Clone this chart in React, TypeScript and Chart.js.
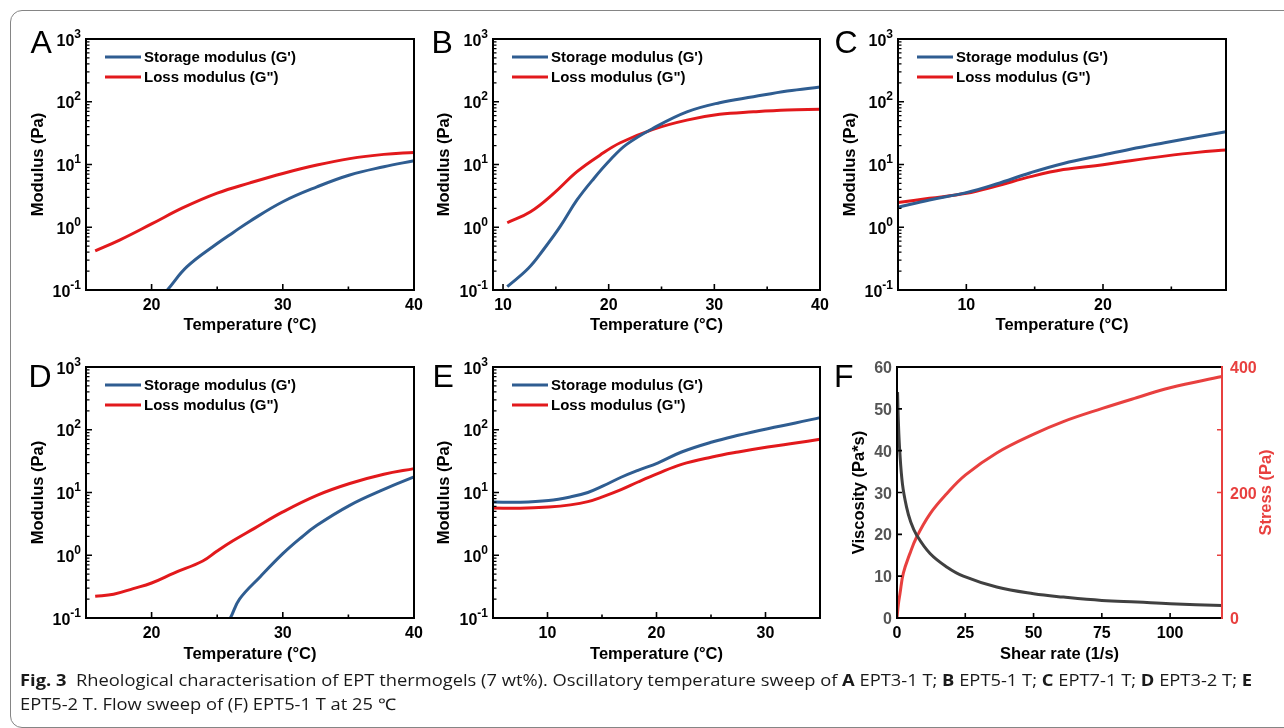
import React, { useEffect, useLayoutEffect, useRef } from 'react';
import { Chart, registerables } from 'chart.js';
Chart.register(...registerables);

const W = 1284;
const H = 728;
const BLUE = '#2f5d91';
const RED = '#e2191c';
const F_RED = '#e8403f';
const F_GRAY = '#404040';
const FONT = '"Liberation Sans", Arial, sans-serif';

const LEGEND_LABELS = ["Storage modulus (G')", 'Loss modulus (G")'];
const TEMP_TITLE = 'Temperature (°C)';
const MOD_TITLE = 'Modulus (Pa)';
const LOG_TICKS = [0.1, 1, 10, 100, 1000];
const LOG_EXP = ['-1', '0', '1', '2', '3'];

// Panel A (EPT3-1 T)
const A_T_G1 = [20.8, 21.2, 22.7, 25.0, 26.2, 27.5, 30.0, 32.6, 35.1, 37.7, 40];
const A_G1 = [0.082, 0.1, 0.235, 0.55, 0.82, 1.25, 2.55, 4.4, 6.8, 9.2, 11.5];
const A_T_G2 = [15.7, 17.6, 20.0, 22.4, 25.0, 27.5, 30.0, 32.6, 35.1, 37.7, 40];
const A_G2 = [0.42, 0.63, 1.13, 2.05, 3.5, 5.1, 7.2, 9.8, 12.4, 14.5, 15.6];

// Panel B (EPT5-1 T)
const B_T_G1 = [10.4, 12.4, 13.8, 15.4, 17.0, 18.6, 20.2, 21.7, 24.2, 27.4, 30.5, 33.7, 36.9, 40];
const B_G1 = [0.113, 0.222, 0.434, 1.02, 2.72, 6.0, 12.1, 20.9, 37.7, 69, 96.6, 120, 148, 172];
const B_T_G2 = [10.4, 12.6, 14.8, 17.0, 19.2, 21.1, 24.2, 27.4, 30.5, 33.7, 36.9, 40];
const B_G2 = [1.18, 1.77, 3.47, 7.7, 14.2, 22.2, 36.3, 51, 63, 69, 73.8, 75.7];

// Panel C (EPT7-1 T)
const C_T = [5, 7.3, 10, 12.2, 14.7, 17.1, 20, 22, 24.5, 26.9, 29];
const C_G1 = [2.08, 2.72, 3.56, 4.89, 7.4, 10.4, 14.2, 17.5, 22.2, 27.7, 33.3];
const C_G2 = [2.47, 2.89, 3.47, 4.54, 6.4, 8.3, 9.9, 11.5, 13.6, 15.6, 17.0];

// Panel D (EPT3-2 T)
const D_T_G1 = [25.7, 26.0, 26.7, 28.3, 30.0, 31.3, 32.6, 35.1, 37.7, 40];
const D_G1 = [0.085, 0.1, 0.2, 0.46, 1.06, 1.84, 3.0, 6.25, 11.2, 17.7];
const D_T_G2 = [15.7, 17.1, 18.6, 20.0, 21.7, 23.9, 25.0, 26.2, 27.8, 30.0, 32.6, 35.1, 37.7, 40];
const D_G2 = [0.222, 0.239, 0.294, 0.361, 0.52, 0.81, 1.17, 1.7, 2.66, 4.9, 9.0, 13.9, 19.5, 24];

// Panel E (EPT5-2 T)
const E_T = [5, 7.5, 10.1, 12.1, 13.7, 15.1, 16.75, 18.3, 20.1, 22.3, 25.1, 27.5, 30.2, 32.75, 35];
const E_G1 = [7.06, 7.0, 7.45, 8.5, 10.0, 12.7, 17.5, 22.6, 29.5, 44.2, 63.8, 81.6, 104, 128, 156];
const E_G2 = [5.66, 5.6, 5.87, 6.35, 7.15, 8.6, 11.1, 14.7, 20, 28.1, 36.8, 44.2, 53, 61.5, 70.5];

// Panel F (flow sweep EPT5-1 T, 25 °C)
const F_RATE_VISC = [0.2, 0.5, 1.0, 2.0, 3.5, 5.0, 7.2, 12.1, 18.2, 24.3, 36.5, 50, 61, 75, 88, 100, 119];
const F_VISC = [54, 47, 40, 32, 26.5, 23, 19.8, 15.4, 12.2, 10.0, 7.4, 5.8, 5.0, 4.2, 3.8, 3.4, 3.0];
const F_RATE_STRESS = [0, 0.5, 1.1, 2.3, 4.75, 7.2, 12.1, 18.2, 25.1, 36.5, 50.1, 60.9, 75.2, 87.7, 100, 119];
const F_STRESS = [0, 22, 39, 71, 103, 129, 166, 198, 228, 263, 293, 313, 334, 351, 367, 385];
const F_X_TICKS = [0, 25, 50, 75, 100];
const F_Y_TICKS = [0, 10, 20, 30, 40, 50, 60];
const F_Y2_TICKS = [0, 100, 200, 300, 400];
const F_Y2_LABELS = [0, 200, 400];

const CAPTION_1: [string, boolean][] = [
  ['Fig. 3', true],
  ['\u00a0\u00a0Rheological characterisation of EPT thermogels (7 wt%). Oscillatory temperature sweep of ', false],
  ['A', true], [' EPT3-1 T; ', false],
  ['B', true], [' EPT5-1 T; ', false],
  ['C', true], [' EPT7-1 T; ', false],
  ['D', true], [' EPT3-2 T; ', false],
  ['E', true],
];
const CAPTION_2 = 'EPT5-2 T. Flow sweep of (F) EPT5-1 T at 25 \u2103';

type LogPanel = {
  id: string;
  box: number[];
  xMin: number; xMax: number;
  xMajor: number[]; xMinor: number[];
  g1: number[][]; g2: number[][];
  letter: number[];
  yTitleX: number;
  xTitleDy: number;
};

const PANELS: LogPanel[] = [
  { id: 'A', box: [86, 39, 414, 290], xMin: 15, xMax: 40, xMajor: [20, 30, 40], xMinor: [25, 35],
    g1: [A_T_G1, A_G1], g2: [A_T_G2, A_G2], letter: [30.5, 52.5], yTitleX: 38.5, xTitleDy: 39.5 },
  { id: 'B', box: [493, 39, 820, 290], xMin: 9.05, xMax: 40, xMajor: [10, 20, 30, 40], xMinor: [15, 25, 35],
    g1: [B_T_G1, B_G1], g2: [B_T_G2, B_G2], letter: [431.5, 52.5], yTitleX: 444.5, xTitleDy: 39.5 },
  { id: 'C', box: [898, 39, 1226, 290], xMin: 5, xMax: 29, xMajor: [10, 20], xMinor: [15, 25],
    g1: [C_T, C_G1], g2: [C_T, C_G2], letter: [834.5, 52.5], yTitleX: 850, xTitleDy: 39.5 },
  { id: 'D', box: [86, 367, 414, 618], xMin: 15, xMax: 40, xMajor: [20, 30, 40], xMinor: [25, 35],
    g1: [D_T_G1, D_G1], g2: [D_T_G2, D_G2], letter: [28.5, 386.5], yTitleX: 38.5, xTitleDy: 41 },
  { id: 'E', box: [493, 367, 820, 618], xMin: 5, xMax: 35, xMajor: [10, 20, 30], xMinor: [15, 25],
    g1: [E_T, E_G1], g2: [E_T, E_G2], letter: [432.5, 386.5], yTitleX: 444.5, xTitleDy: 41 },
];
const F_BOX = [897, 367, 1222, 618];

function pts(xs: number[], ys: number[]) {
  return xs.map((x, i) => ({ x, y: ys[i] }));
}

function drawRotated(ctx: any, text: string, x: number, y: number, font: string, color: string) {
  ctx.save();
  ctx.translate(x, y);
  ctx.rotate(-Math.PI / 2);
  ctx.font = font;
  ctx.fillStyle = color;
  ctx.textAlign = 'center';
  ctx.textBaseline = 'middle';
  ctx.fillText(text, 0, 0);
  ctx.restore();
}

function logDecor(p: LogPanel) {
  return {
    id: 'decor' + p.id,
    afterDraw(chart: any) {
      const ctx = chart.ctx;
      const { left, top, right, bottom } = chart.chartArea;
      const xs = chart.scales.x;
      const ys = chart.scales.y;
      ctx.save();
      ctx.strokeStyle = '#000';
      ctx.fillStyle = '#000';
      ctx.lineWidth = 1.6;
      ctx.beginPath();
      p.xMajor.forEach((v) => { const px = xs.getPixelForValue(v); ctx.moveTo(px, bottom); ctx.lineTo(px, bottom - 6); });
      p.xMinor.forEach((v) => { const px = xs.getPixelForValue(v); ctx.moveTo(px, bottom); ctx.lineTo(px, bottom - 3.5); });
      LOG_TICKS.forEach((v) => { const py = ys.getPixelForValue(v); ctx.moveTo(left, py); ctx.lineTo(left + 6, py); });
      ctx.stroke();
      ctx.lineWidth = 1.2;
      ctx.beginPath();
      for (let e = -1; e < 3; e++) {
        for (let k = 2; k < 10; k++) {
          const py = ys.getPixelForValue(k * Math.pow(10, e));
          ctx.moveTo(left, py); ctx.lineTo(left + 3.5, py);
        }
      }
      ctx.stroke();
      ctx.lineWidth = 2;
      ctx.strokeRect(left, top, right - left, bottom - top);

      ctx.font = `bold 16px ${FONT}`;
      ctx.textAlign = 'center';
      ctx.textBaseline = 'alphabetic';
      p.xMajor.forEach((v) => ctx.fillText(String(v), xs.getPixelForValue(v), bottom + 19.5));
      LOG_TICKS.forEach((v, i) => {
        const py = ys.getPixelForValue(v);
        ctx.font = `bold 16px ${FONT}`;
        const mw = ctx.measureText('10').width;
        ctx.font = `bold 12px ${FONT}`;
        const ew = ctx.measureText(LOG_EXP[i]).width;
        const x0 = left - 5 - mw - ew;
        ctx.textAlign = 'left';
        ctx.font = `bold 16px ${FONT}`;
        ctx.fillText('10', x0, py + 6.5);
        ctx.font = `bold 12px ${FONT}`;
        ctx.fillText(LOG_EXP[i], x0 + mw, py - 1.5);
      });
      ctx.font = `bold 16.5px ${FONT}`;
      ctx.textAlign = 'center';
      ctx.fillText(TEMP_TITLE, (left + right) / 2, bottom + p.xTitleDy);
      drawRotated(ctx, MOD_TITLE, p.yTitleX, (top + bottom) / 2, `bold 16.5px ${FONT}`, '#000');
      const cols = [BLUE, RED];
      cols.forEach((c, i) => {
        const y = top + 18 + 20 * i;
        ctx.strokeStyle = c;
        ctx.lineWidth = 3.2;
        ctx.beginPath();
        ctx.moveTo(left + 19, y);
        ctx.lineTo(left + 55, y);
        ctx.stroke();
        ctx.fillStyle = '#000';
        ctx.font = `bold 15px ${FONT}`;
        ctx.textAlign = 'left';
        ctx.textBaseline = 'middle';
        ctx.fillText(LEGEND_LABELS[i], left + 58, y + 0.5);
      });
      ctx.textBaseline = 'alphabetic';
      ctx.font = `32px ${FONT}`;
      ctx.fillText(p.id, p.letter[0], p.letter[1]);
      ctx.restore();
    },
  };
}

const fDecor = {
  id: 'decorF',
  afterDraw(chart: any) {
    const ctx = chart.ctx;
    const { left, top, right, bottom } = chart.chartArea;
    const xs = chart.scales.x;
    const ys = chart.scales.y;
    const y2 = chart.scales.y2;
    ctx.save();
    ctx.lineWidth = 1.6;
    ctx.strokeStyle = '#000';
    ctx.beginPath();
    F_X_TICKS.forEach((v) => { const px = xs.getPixelForValue(v); ctx.moveTo(px, bottom); ctx.lineTo(px, bottom - 5); });
    F_Y_TICKS.forEach((v) => { const py = ys.getPixelForValue(v); ctx.moveTo(left, py); ctx.lineTo(left + 5, py); });
    ctx.stroke();
    ctx.strokeStyle = F_RED;
    ctx.beginPath();
    F_Y2_TICKS.forEach((v) => { const py = y2.getPixelForValue(v); ctx.moveTo(right, py); ctx.lineTo(right - 5, py); });
    ctx.stroke();
    ctx.lineWidth = 2;
    ctx.strokeStyle = '#000';
    ctx.beginPath();
    ctx.moveTo(right, top); ctx.lineTo(left, top); ctx.lineTo(left, bottom); ctx.lineTo(right, bottom);
    ctx.stroke();
    ctx.strokeStyle = F_RED;
    ctx.beginPath();
    ctx.moveTo(right, top - 1); ctx.lineTo(right, bottom + 1);
    ctx.stroke();
    ctx.font = `bold 16px ${FONT}`;
    ctx.textBaseline = 'alphabetic';
    ctx.textAlign = 'center';
    ctx.fillStyle = '#000';
    F_X_TICKS.forEach((v) => ctx.fillText(String(v), xs.getPixelForValue(v), bottom + 19.5));
    ctx.textAlign = 'right';
    ctx.fillStyle = '#555';
    F_Y_TICKS.forEach((v) => ctx.fillText(String(v), left - 5, ys.getPixelForValue(v) + 6));
    ctx.textAlign = 'left';
    ctx.fillStyle = F_RED;
    F_Y2_LABELS.forEach((v) => ctx.fillText(String(v), right + 8, y2.getPixelForValue(v) + 6));
    ctx.font = `bold 16.5px ${FONT}`;
    ctx.fillStyle = '#000';
    ctx.textAlign = 'center';
    ctx.fillText('Shear rate (1/s)', (left + right) / 2, bottom + 41);
    drawRotated(ctx, 'Viscosity (Pa*s)', 859.5, (top + bottom) / 2, `bold 16.5px ${FONT}`, '#000');
    drawRotated(ctx, 'Stress (Pa)', 1266.5, (top + bottom) / 2, `bold 16.5px ${FONT}`, F_RED);
    ctx.font = `32px ${FONT}`;
    ctx.textAlign = 'left';
    ctx.fillStyle = '#000';
    ctx.fillText('F', 834, 386.5);
    ctx.restore();
  },
};

function padding(box: number[]) {
  return { left: box[0], top: box[1], right: W - box[2], bottom: H - box[3] };
}

function lineDs(label: string, data: any[], color: string, axis = 'y') {
  return {
    label, data, borderColor: color, backgroundColor: color, borderWidth: 3,
    pointRadius: 0, fill: false, yAxisID: axis, clip: 1,
    cubicInterpolationMode: 'default', tension: 0.4,
  };
}

function logConfig(p: LogPanel): any {
  return {
    type: 'line',
    data: {
      datasets: [
        lineDs(LEGEND_LABELS[0], pts(p.g1[0], p.g1[1]), BLUE),
        lineDs(LEGEND_LABELS[1], pts(p.g2[0], p.g2[1]), RED),
      ],
    },
    options: {
      animation: false, responsive: false, events: [],
      layout: { padding: padding(p.box) },
      scales: {
        x: { type: 'linear', min: p.xMin, max: p.xMax, display: false },
        y: { type: 'logarithmic', min: 0.1, max: 1000, display: false },
      },
      plugins: { legend: { display: false }, tooltip: { enabled: false } },
    },
    plugins: [logDecor(p)],
  };
}

function fConfig(): any {
  return {
    type: 'line',
    data: {
      datasets: [
        lineDs('Viscosity (Pa*s)', pts(F_RATE_VISC, F_VISC), F_GRAY, 'y'),
        lineDs('Stress (Pa)', pts(F_RATE_STRESS, F_STRESS), F_RED, 'y2'),
      ],
    },
    options: {
      animation: false, responsive: false, events: [],
      layout: { padding: padding(F_BOX) },
      scales: {
        x: { type: 'linear', min: 0, max: 119, display: false },
        y: { type: 'linear', min: 0, max: 60, display: false },
        y2: { type: 'linear', min: 0, max: 400, display: false, position: 'right' },
      },
      plugins: { legend: { display: false }, tooltip: { enabled: false } },
    },
    plugins: [fDecor],
  };
}

function ChartCanvas({ config }: { config: () => any }) {
  const ref = useRef<HTMLCanvasElement>(null);
  useEffect(() => {
    if (!ref.current) return;
    const c = new Chart(ref.current, config());
    return () => c.destroy();
  }, []);
  return <canvas ref={ref} width={W} height={H} style={{ position: 'absolute', left: 0, top: 0, width: W, height: H }} />;
}

function FitLine({ target, top, children }: { target: number; top: number; children: any }) {
  const ref = useRef<HTMLDivElement>(null);
  useLayoutEffect(() => {
    const el = ref.current;
    if (!el) return;
    el.style.transform = 'none';
    const w = el.getBoundingClientRect().width;
    if (w > 0) el.style.transform = `scaleX(${target / w})`;
  }, []);
  return (
    <div ref={ref} style={{
      position: 'absolute', left: 19.5, top, whiteSpace: 'nowrap', display: 'inline-block',
      fontFamily: '"Open Sans", sans-serif', fontSize: 16, lineHeight: '20px', color: '#1a1a1a',
      transformOrigin: 'left top',
    }}>{children}</div>
  );
}

export default function App() {
  return (
    <div style={{ position: 'fixed', left: 0, top: 0, width: W, height: H, background: '#fff', overflow: 'hidden' }}>
      <div style={{ position: 'absolute', left: 10, top: 10, width: 1300, height: 718, border: '1.5px solid #858585', borderRadius: 12, boxSizing: 'border-box' }} />
      {PANELS.map((p) => <ChartCanvas key={p.id} config={() => logConfig(p)} />)}
      <ChartCanvas config={fConfig} />
      <FitLine target={1232} top={670}>
        {CAPTION_1.map(([t, b], i) => <span key={i} style={{ fontWeight: b ? 700 : 400 }}>{t}</span>)}
      </FitLine>
      <FitLine target={376} top={693.5}>{CAPTION_2}</FitLine>
    </div>
  );
}
